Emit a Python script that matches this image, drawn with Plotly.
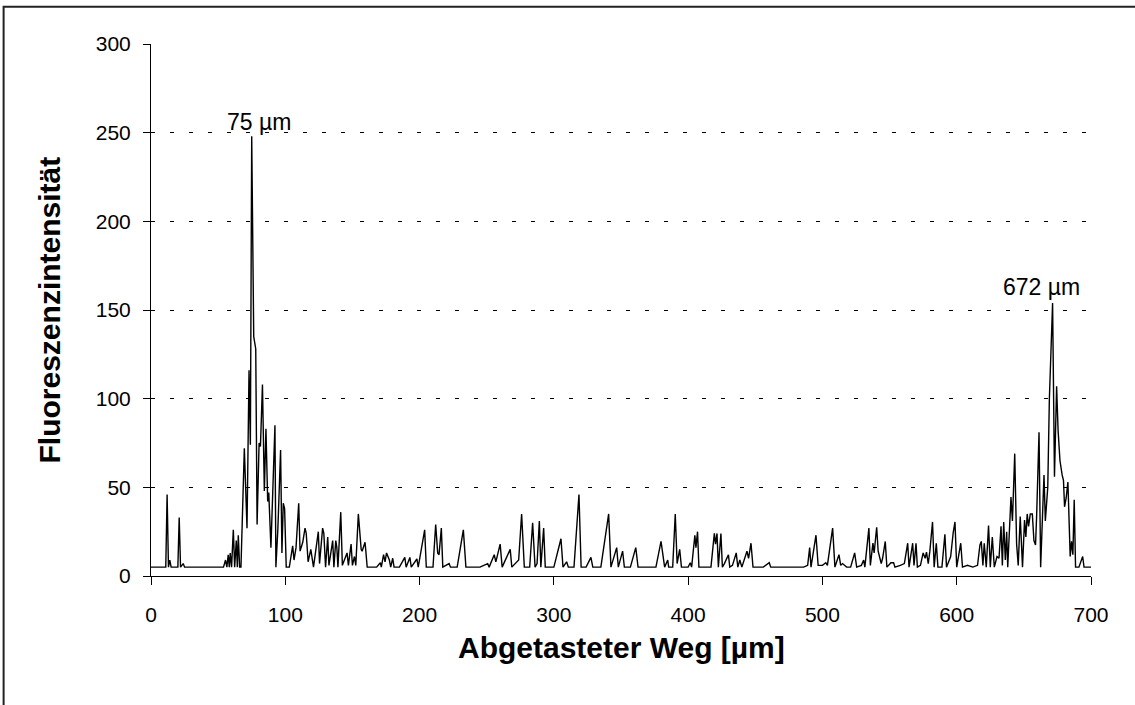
import plotly.graph_objects as go

# Scanned path (µm) and fluorescence intensity
weg_um = [
    0, 4, 8, 11, 12, 13, 14, 15, 20, 21, 22, 24, 25, 30, 35, 40, 45, 50, 54, 55.5,
    56.5, 57.5, 58.3, 59, 60, 61.3, 62.3, 63.5, 64.3, 65, 66, 67, 69.5, 71.5, 73, 74,
    75, 76.5, 78, 79, 80.5, 81.5, 83, 84.4, 85.6, 86.9, 87.7, 89.3, 92.3, 93, 94.5,
    96.5, 97.5, 98.5, 99.5, 100.7, 103, 105.5, 106.5, 108, 110, 111, 113, 114.7,
    115.6, 117, 119, 121, 123, 124.6, 125.5, 127.8, 128.7, 130, 131.6, 132.5, 135.3,
    136.2, 137.6, 138.4, 139.2, 141.3, 142.5, 146, 147, 149, 150, 151.5, 152.5, 154.4,
    156.5, 157.2, 159.4, 161, 165, 168, 170.8, 171.5, 173.2, 174.3, 175.4, 176.3,
    177.5, 178.5, 180, 181, 185, 189, 190, 192.8, 193.8, 198, 199, 203.8, 205, 210,
    212, 213.5, 214.5, 216.2, 217.3, 222, 223, 228, 232.6, 234.5, 240, 245, 250.7,
    251.8, 255.6, 256.8, 260, 261.5, 267.5, 268.7, 273.8, 276, 278, 282, 284.2, 286,
    287.5, 289.2, 290.3, 292.4, 293.6, 300, 305.3, 306.8, 309.5, 310.8, 315, 318.7,
    320.3, 324, 327.6, 329, 335, 340.8, 342.5, 346.8, 348, 351.2, 352.5, 357, 361,
    362.7, 368, 372, 376, 379.8, 380.8, 382.5, 384.8, 385.5, 388.5, 390.4, 391.8,
    393.7, 395, 400, 401.6, 402.6, 405, 405.8, 407, 408, 412, 417, 419.5, 420.4,
    421.5, 422.5, 424.4, 425.5, 427, 430, 431, 433, 435.8, 437, 438.5, 440, 443.8,
    445, 446.8, 448.3, 452, 456, 460.4, 461.5, 465, 470, 475, 480, 486, 489, 490.5,
    491.5, 495.2, 496.8, 500, 502.5, 503.7, 507.6, 509.3, 512.3, 513.6, 515, 518,
    521, 524, 525.5, 529, 530.7, 531.6, 534.6, 535.7, 537.6, 538.5, 540.4, 541.5,
    542.8, 543.8, 544.8, 546.8, 548, 551, 553, 554, 558, 561, 563.5, 564.5, 567.2,
    568.2, 569.7, 570.7, 573, 575, 576.5, 577.5, 578.8, 580, 582, 583.2, 584.8, 586,
    589, 591.2, 592.4, 595.5, 597.4, 598.7, 600, 603, 604.3, 608, 612, 615.5, 617.3,
    618.3, 619.5, 620.5, 622, 623.7, 625, 626.5, 628, 630, 631.5, 633, 634, 635,
    636.2, 637.2, 638, 640.4, 641.5, 643.2, 644.6, 645.8, 647.3, 649, 650.5, 651.5,
    652.5, 653.5, 654.8, 656.3, 657.5, 658.7, 659.5, 661.3, 662.5, 663.8, 665, 666,
    666.7, 667.8, 669, 671.4, 672.8, 674.4, 675.5, 676.9, 678.5, 679.5, 680.3, 681.5,
    682.8, 683.7, 684.5, 685.5, 686.5, 687.5, 688.5, 691, 693.8, 694.8, 697, 700,
]

intensitaet = [
    5, 5, 5, 5, 46, 5, 9, 5, 5, 33, 5, 7, 5, 5, 5, 5, 5, 5, 5, 9,
    5, 12, 5, 13, 5, 26, 5, 20, 5, 23, 5, 5, 72, 27, 116, 74,
    248, 135, 128, 29, 75, 73, 108, 48, 83, 42, 47, 16, 85, 5, 27,
    71, 13, 41, 38, 5, 5, 17, 9, 16, 41, 14, 19, 27,
    24, 8, 15, 5, 15, 25, 7, 27, 24, 5, 22, 6, 20,
    5, 20, 16, 5, 36, 6, 13, 6, 18, 6, 11, 6, 35,
    15, 14, 19, 5, 5, 5, 7.5, 5, 12, 8, 13, 11,
    9, 5, 10, 5, 5, 10.5, 5, 10.5, 5, 9.6, 5, 26, 5, 5,
    29, 13, 12, 27, 5, 7, 5, 5, 26, 5, 5, 5, 7,
    5, 12, 8, 18, 5, 15, 5, 9, 35, 5, 5, 30, 5,
    7, 31, 5, 27, 5, 5, 21, 5, 8, 5, 5, 46,
    5, 5, 10.5, 5, 5, 35, 5, 16, 5, 14, 5, 5, 16,
    5, 5, 5, 5, 19.5, 15, 5, 9, 5, 5, 35, 7,
    15, 5, 5, 7.5, 5, 23, 16, 25, 5, 5, 5, 24, 18,
    24, 5, 24, 5, 7, 12, 5, 6, 13, 5, 9, 5, 14,
    10, 18.5, 5, 5, 5, 7.5, 5, 5, 5, 5, 5, 5, 6, 16,
    5, 23, 6, 6, 7.5, 6, 27, 5, 12, 6, 7, 5,
    5, 13, 5, 6, 9, 5, 27, 6, 18.5, 13, 27.5, 14,
    10, 7, 10, 19.5, 5, 7.5, 7.5, 5, 6, 7, 18.5, 5, 18.5,
    6, 18.5, 5, 6, 13, 10, 13.5, 7, 14, 30.5, 5, 18.5, 5,
    5, 23.5, 5, 11, 24.5, 30.5, 5, 18.5, 5, 6, 5, 6, 17.5,
    19.5, 6, 18.5, 5, 28.5, 5, 22, 5, 11, 10, 28, 6, 30.5,
    9, 25, 5, 44.5, 31, 69, 18, 6, 33.5, 5, 31.5, 22,
    35, 28, 35, 35, 20, 17.5, 33.5, 81, 5, 36, 57, 31,
    40, 50, 100, 154, 56, 107, 82, 65, 57, 54, 39, 44,
    53, 28, 11, 19.5, 12, 43, 5, 5, 11, 5, 5, 5,
]

x_ticks = [0, 100, 200, 300, 400, 500, 600, 700]
y_ticks = [0, 50, 100, 150, 200, 250, 300]

peak_labels = ["75 µm", "672 µm"]
peak_label_x = [80.3, 663.5]
peak_label_y = [256, 163]

x_title = "Abgetasteter Weg [µm]"
y_title = "Fluoreszenzintensität"

FONT = "Liberation Sans, Arial, sans-serif"

fig = go.Figure()
fig.add_trace(go.Scatter(
    x=weg_um, y=intensitaet, mode="lines",
    line=dict(color="black", width=1.4),
    showlegend=False, hoverinfo="x+y",
))

for txt, lx, ly in zip(peak_labels, peak_label_x, peak_label_y):
    fig.add_annotation(x=lx, y=ly, xref="x", yref="y", text=txt, showarrow=False,
                       xanchor="center", yanchor="middle",
                       font=dict(family=FONT, size=23, color="black"))

fig.add_annotation(x=0.5, y=-0.134, xref="paper", yref="paper", text="<b>" + x_title + "</b>",
                   showarrow=False, xanchor="center", yanchor="middle",
                   font=dict(family=FONT, size=30, color="black"))
fig.add_annotation(x=-0.108, y=0.5, xref="paper", yref="paper", text="<b>" + y_title + "</b>",
                   showarrow=False, xanchor="center", yanchor="middle", textangle=-90,
                   font=dict(family=FONT, size=30, color="black"))

# outer chart frame (partly cut off at right and bottom)
fig.add_shape(type="rect", xref="paper", yref="paper",
              x0=-0.1568, y0=-0.6, x1=1.3, y1=1.0701,
              line=dict(color="#222222", width=2), fillcolor="rgba(0,0,0,0)", layer="below")

fig.update_layout(
    width=1135, height=705,
    margin=dict(l=151, r=44, t=44, b=129),
    paper_bgcolor="white", plot_bgcolor="white",
    font=dict(family=FONT, size=21, color="black"),
    xaxis=dict(
        range=[0, 700], tickvals=x_ticks, ticktext=[str(v) for v in x_ticks],
        showgrid=False, zeroline=False, showline=True, linecolor="black", linewidth=1,
        ticks="outside", ticklen=8, tickwidth=1, tickcolor="black",
        tickfont=dict(family=FONT, size=21, color="black"), ticklabelstandoff=12,
    ),
    yaxis=dict(
        range=[0, 300], tickvals=y_ticks, ticktext=[str(v) for v in y_ticks],
        showgrid=True, gridcolor="black", gridwidth=1, griddash="4px,15px",
        zeroline=False, showline=True, linecolor="black", linewidth=1,
        ticks="outside", ticklen=7, tickwidth=1, tickcolor="black",
        tickfont=dict(family=FONT, size=21, color="black"), ticklabelstandoff=8,
    ),
)

fig.write_html("out.html")
